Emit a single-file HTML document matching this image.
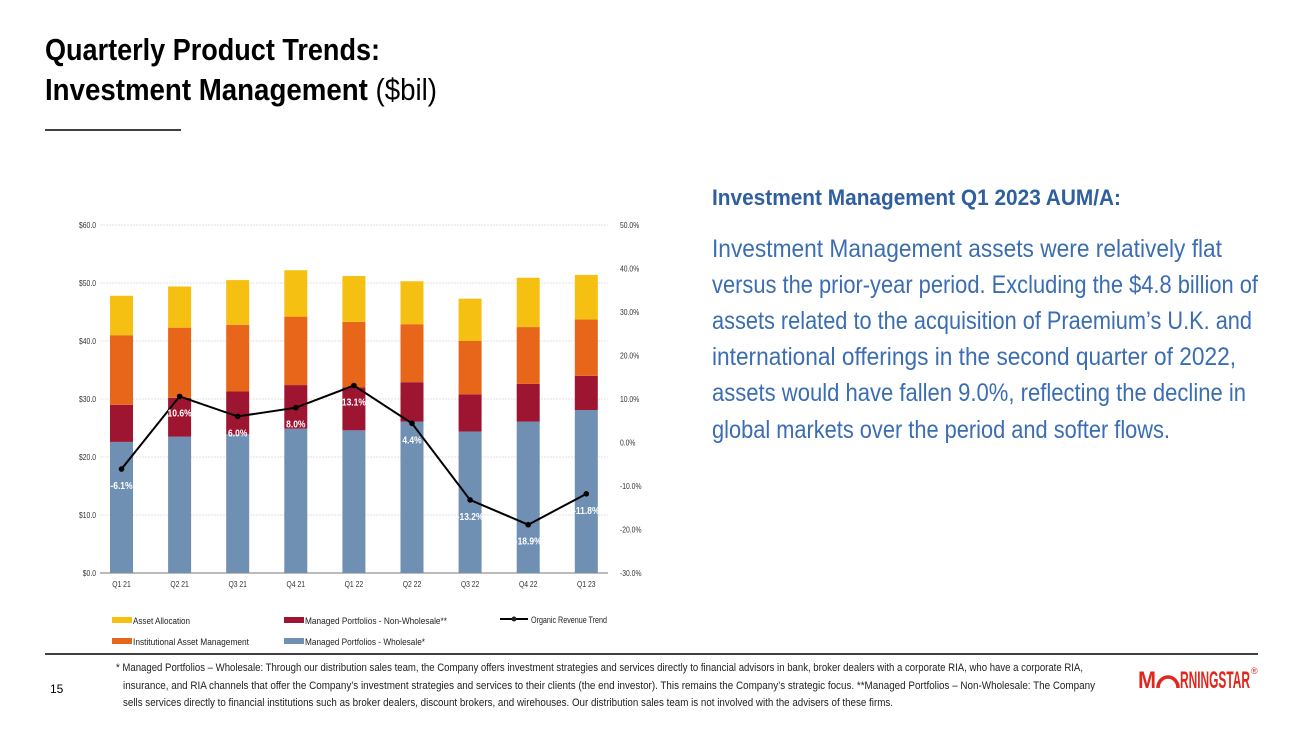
<!DOCTYPE html>
<html><head><meta charset="utf-8"><style>
body{margin:0;background:#fff}
svg{display:block;font-family:"Liberation Sans Narrow","Liberation Sans",sans-serif}
</style></head><body>
<svg id="s" width="1300" height="731" viewBox="0 0 1300 731">
<text x="45" y="60" font-size="31" font-weight="bold" textLength="335" lengthAdjust="spacingAndGlyphs">Quarterly Product Trends:</text>
<text x="45" y="100" font-size="31" textLength="392" lengthAdjust="spacingAndGlyphs"><tspan font-weight="bold">Investment Management</tspan> ($bil)</text>
<line x1="45" y1="130" x2="181" y2="130" stroke="#000" stroke-width="1.5"/>
<text x="712" y="205" font-size="22" font-weight="bold" fill="#2f5f9f" textLength="409" lengthAdjust="spacingAndGlyphs">Investment Management Q1 2023 AUM/A:</text>
<g fill="#3b6db3" font-size="25">
<text x="712" y="257" textLength="510" lengthAdjust="spacingAndGlyphs">Investment Management assets were relatively flat</text>
<text x="712" y="293" textLength="546" lengthAdjust="spacingAndGlyphs">versus the prior-year period. Excluding the $4.8 billion of</text>
<text x="712" y="329" textLength="540" lengthAdjust="spacingAndGlyphs">assets related to the acquisition of Praemium’s U.K. and</text>
<text x="712" y="365" textLength="524" lengthAdjust="spacingAndGlyphs">international offerings in the second quarter of 2022,</text>
<text x="712" y="401" textLength="534" lengthAdjust="spacingAndGlyphs">assets would have fallen 9.0%, reflecting the decline in</text>
<text x="712" y="438" textLength="458" lengthAdjust="spacingAndGlyphs">global markets over the period and softer flows.</text>
</g>
<g id="chart"></g>
<g font-size="9" fill="#222">
<rect x="112" y="617" width="20" height="6" fill="#f5c012"/><text x="133" y="624" textLength="57" lengthAdjust="spacingAndGlyphs">Asset Allocation</text>
<rect x="112" y="638" width="20" height="6" fill="#e8661a"/><text x="133" y="645" textLength="116" lengthAdjust="spacingAndGlyphs">Institutional Asset Management</text>
<rect x="284" y="617" width="20" height="6" fill="#9e1531"/><text x="305" y="624" textLength="142" lengthAdjust="spacingAndGlyphs">Managed Portfolios - Non-Wholesale**</text>
<rect x="284" y="638" width="20" height="6" fill="#6f8fb3"/><text x="305" y="645" textLength="120" lengthAdjust="spacingAndGlyphs">Managed Portfolios - Wholesale*</text>
<line x1="500" y1="619" x2="528" y2="619" stroke="#000" stroke-width="2"/><circle cx="514" cy="619" r="2.5"/><text x="531" y="623" textLength="76" lengthAdjust="spacingAndGlyphs">Organic Revenue Trend</text>
</g>
<line x1="45" y1="654" x2="1258" y2="654" stroke="#000" stroke-width="1.5"/>
<text x="50" y="693" font-size="12">15</text>
<g font-size="11" fill="#222">
<text x="116" y="671" textLength="967" lengthAdjust="spacingAndGlyphs">* Managed Portfolios – Wholesale: Through our distribution sales team, the Company offers investment strategies and services directly to financial advisors in bank, broker dealers with a corporate RIA, who have a corporate RIA,</text>
<text x="123" y="689" textLength="972" lengthAdjust="spacingAndGlyphs">insurance, and RIA channels that offer the Company’s investment strategies and services to their clients (the end investor). This remains the Company’s strategic focus. **Managed Portfolios – Non-Wholesale: The Company</text>
<text x="123" y="706" textLength="770" lengthAdjust="spacingAndGlyphs">sells services directly to financial institutions such as broker dealers, discount brokers, and wirehouses. Our distribution sales team is not involved with the advisers of these firms.</text>
</g>
<g fill="#e1261c">
<text x="1138" y="688" font-size="24" font-weight="bold" textLength="18" lengthAdjust="spacingAndGlyphs">M</text>
<path d="M1158 688 A10 11 0 0 1 1178 688" stroke="#e1261c" stroke-width="3.5" fill="none"/>
<text x="1180" y="688" font-size="24" font-weight="bold" textLength="70" lengthAdjust="spacingAndGlyphs">RNINGSTAR</text>
<text x="1251" y="674" font-size="9">®</text>
</g>
</svg>
<script>
const categories=["Q1 21","Q2 21","Q3 21","Q4 21","Q1 22","Q2 22","Q3 22","Q4 22","Q1 23"];
const wholesale=[22.6,23.5,23.9,24.9,24.6,26.1,24.4,26.1,28.1];
const nonWholesale=[6.4,6.7,7.4,7.5,7.4,6.8,6.4,6.5,5.9];
const institutional=[12.0,12.1,11.5,11.8,11.3,10.0,9.2,9.8,9.7];
const assetAllocation=[6.8,7.1,7.7,8.0,7.9,7.4,7.3,8.5,7.7];
const organic=[-6.1,10.6,6.0,8.0,13.1,4.4,-13.2,-18.9,-11.8];
const leftTicks=[0,10,20,30,40,50,60];
const rightTicks=[-30,-20,-10,0,10,20,30,40,50];
const NS="http://www.w3.org/2000/svg";
const g=document.getElementById("chart");
const yL=v=>573-v*(348/60);
const yR=v=>573-(v+30)*(348/80);
const xC=i=>121.5+i*58.1;
function mk(t,a,p){const e=document.createElementNS(NS,t);for(const k in a)e.setAttribute(k,a[k]);(p||g).appendChild(e);return e;}
leftTicks.forEach(v=>{
 const l=mk("line",{x1:100,x2:608,y1:yL(v),y2:yL(v),stroke:v===0?"#777":"#d8d8d8","stroke-width":v===0?1:0.8,"stroke-dasharray":v===0?"":"2,1"});
 
 
 const t=mk("text",{x:96,y:yL(v)+3,"font-size":8,"text-anchor":"end",fill:"#333",transform:"translate(96 0) scale(0.85 1) translate(-96 0)"});t.textContent="$"+v.toFixed(1);
 
 
});
rightTicks.forEach(v=>{
 const t=mk("text",{x:620,y:yR(v)+3,"font-size":8,fill:"#333",transform:"translate(620 0) scale(0.85 1) translate(-620 0)"});t.textContent=v.toFixed(1)+"%";
 
 
});
const series=[[wholesale,"#6f8fb3","bar-wholesale"],[nonWholesale,"#9e1531","bar-non-wholesale"],[institutional,"#e8661a","bar-institutional"],[assetAllocation,"#f5c012","bar-asset-allocation"]];
categories.forEach((c,i)=>{
 let base=0;
 series.forEach(([arr,col,nm])=>{
  const top=base+arr[i];
  const r=mk("rect",{x:xC(i)-11.5,y:yL(top),width:23,height:yL(base)-yL(top),fill:col});
  
  
  base=top;
 });
 const t=mk("text",{x:xC(i),y:587,"font-size":8,"text-anchor":"middle",fill:"#333",transform:`translate(${xC(i)} 0) scale(0.85 1) translate(${-xC(i)} 0)`});t.textContent=c;
 
 
});
const pl=mk("polyline",{points:organic.map((v,i)=>xC(i)+","+yR(v)).join(" "),fill:"none",stroke:"#000","stroke-width":2});


organic.forEach((v,i)=>{
 const c=mk("circle",{cx:xC(i),cy:yR(v),r:2.8,fill:"#000"});
 
 
 const t=mk("text",{x:xC(i),y:yR(v)+20,"font-size":10,"font-weight":"bold","text-anchor":"middle",fill:"#fff",transform:`translate(${xC(i)} 0) scale(0.85 1) translate(${-xC(i)} 0)`});
 t.textContent=v.toFixed(1)+"%";
 
 
});
</script>
</body></html>
